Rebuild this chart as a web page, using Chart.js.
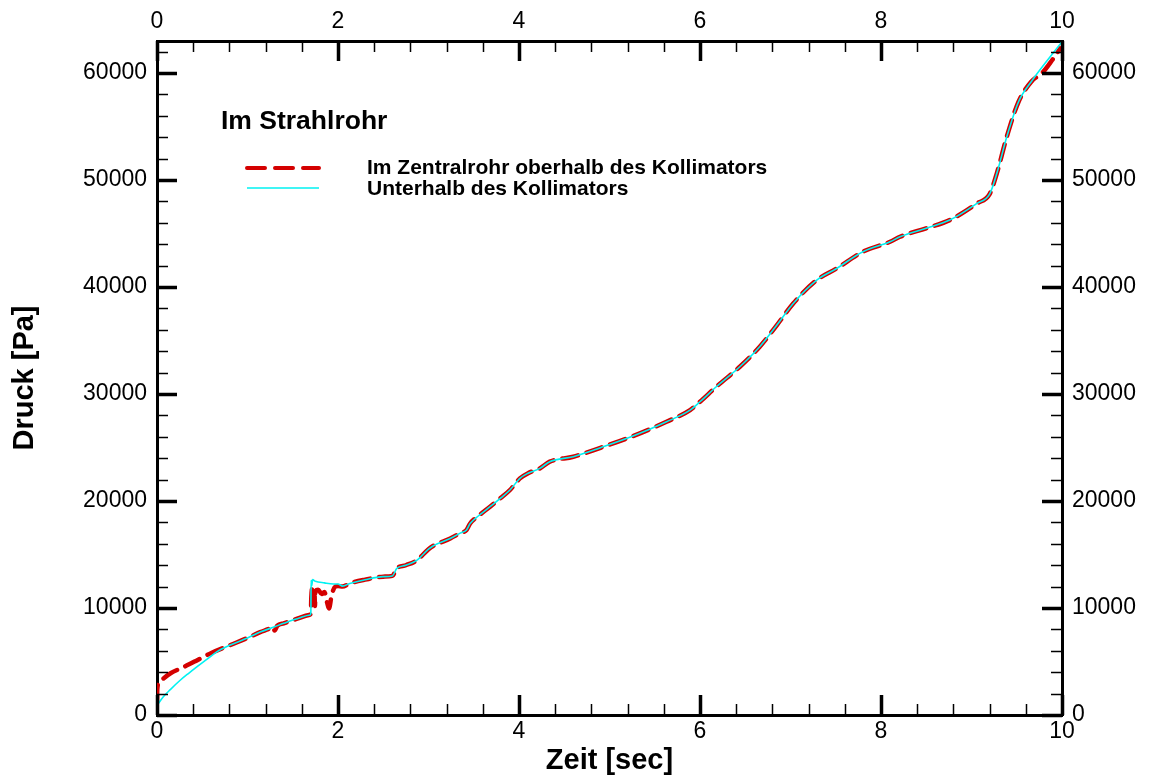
<!DOCTYPE html>
<html>
<head>
<meta charset="utf-8">
<script src="https://cdn.jsdelivr.net/npm/chart.js@4.4.1/dist/chart.umd.min.js"></script>
<style>
html,body{margin:0;padding:0;background:#fff;}
#wrap{width:1154px;height:778px;position:relative;}
</style>
</head>
<body>
<div id="wrap"><canvas id="c"></canvas></div>
<script>
// ---- data ----
const xTickLabels = [0, 2, 4, 6, 8, 10];
const yTickLabels = [0, 10000, 20000, 30000, 40000, 50000, 60000];
const seriesNames = ['Im Zentralrohr oberhalb des Kollimators', 'Unterhalb des Kollimators'];
const legendTitle = 'Im Strahlrohr';

const redT = [0, 0.003, 0.02, 0.07, 0.15, 0.3, 0.44, 0.6, 0.81, 1.0, 1.14, 1.25, 1.28, 1.30, 1.33, 1.4, 1.55, 1.68, 1.70, 1.705, 1.72, 1.74, 1.745, 1.75, 1.78, 1.82, 1.85, 1.88, 1.90, 1.93, 1.97, 2.0, 2.05, 2.13, 2.3, 2.5, 2.6, 2.65, 2.75, 2.87, 3.0, 3.05, 3.24, 3.35, 3.42, 3.46, 3.55, 3.68, 3.8, 3.9, 4.01, 4.1, 4.23, 4.34, 4.6, 4.9, 5.26, 5.63, 5.89, 6.0, 6.18, 6.44, 6.66, 6.85, 7.03, 7.29, 7.51, 7.8, 8.1, 8.21, 8.5, 8.76, 9.06, 9.2, 9.28, 9.39, 9.52, 9.66, 9.79, 9.89, 9.98];
const redP = [1300, 2400, 3000, 3400, 3900, 4500, 5100, 5800, 6540, 7200, 7750, 8100, 8250, 7900, 8350, 8570, 9000, 9350, 9500, 11000, 11900, 11700, 10200, 11600, 11700, 11300, 11500, 10500, 9950, 11200, 12000, 12050, 12000, 12300, 12650, 12930, 13000, 13700, 14000, 14450, 15500, 15800, 16500, 17000, 17300, 17900, 18600, 19470, 20300, 21030, 22120, 22600, 23050, 23680, 24140, 24980, 26070, 27410, 28500, 29280, 30680, 32550, 34420, 36450, 38470, 40650, 41740, 43300, 44230, 44700, 45500, 46260, 47820, 48690, 50630, 54050, 57320, 59190, 60100, 61200, 62300];

const cyanT = [0, 0.07, 0.15, 0.25, 0.35, 0.44, 0.55, 0.66, 0.81, 1.0, 1.14, 1.3, 1.4, 1.55, 1.69, 1.70, 1.703, 1.71, 1.72, 1.75, 1.85, 1.95, 2.0, 2.05, 2.13, 2.3, 2.5, 2.6, 2.65, 2.75, 2.87, 3.0, 3.05, 3.24, 3.35, 3.42, 3.46, 3.55, 3.68, 3.8, 3.9, 4.01, 4.1, 4.23, 4.34, 4.6, 4.9, 5.26, 5.63, 5.89, 6.0, 6.18, 6.44, 6.66, 6.85, 7.03, 7.29, 7.51, 7.8, 8.1, 8.21, 8.5, 8.76, 9.06, 9.2, 9.28, 9.39, 9.52, 9.66, 10.0];
const cyanP = [900, 1700, 2400, 3200, 3900, 4500, 5200, 5900, 6540, 7200, 7750, 8250, 8570, 9000, 9350, 9500, 12600, 12100, 12650, 12500, 12350, 12250, 12250, 12050, 12300, 12650, 12930, 13000, 13700, 14000, 14450, 15500, 15800, 16500, 17000, 17300, 17900, 18600, 19470, 20300, 21030, 22120, 22600, 23050, 23680, 24140, 24980, 26070, 27410, 28500, 29280, 30680, 32550, 34420, 36450, 38470, 40650, 41740, 43300, 44230, 44700, 45500, 46260, 47820, 48690, 50630, 54050, 57320, 59190, 62930];

const X_MIN = 0, X_MAX = 10, X_MINOR = 0.4;
const Y_MIN = 0, Y_MAX = 63000, Y_MINOR = 2000;

// ---- styling ----
const FONT = "'Liberation Sans', Arial, Helvetica, sans-serif";
const RED = '#d40000';
const CYAN = '#00f2f2';

const toPts = (t, p) => t.map((v, i) => ({x: v, y: p[i]}));

const inwardTicks = {
  id: 'inwardTicks',
  afterDraw(chart) {
    const ctx = chart.ctx, a = chart.chartArea;
    const sx = chart.scales.x, sy = chart.scales.y;
    ctx.save();
    ctx.strokeStyle = '#000';
    const nx = Math.round((X_MAX - X_MIN) / X_MINOR);
    for (let i = 0; i <= nx; i++) {
      const v = X_MIN + i * X_MINOR;
      const major = xTickLabels.some(t => Math.abs(t - v) < 1e-6);
      const px = Math.round(sx.getPixelForValue(v)) + 0.5;
      const len = major ? 20 : 11;
      ctx.lineWidth = major ? 3.5 : 1.5;
      ctx.beginPath();
      ctx.moveTo(px, a.bottom); ctx.lineTo(px, a.bottom - len);
      ctx.moveTo(px, a.top); ctx.lineTo(px, a.top + len);
      ctx.stroke();
    }
    const ny = Math.floor((Y_MAX - Y_MIN) / Y_MINOR);
    for (let i = 0; i <= ny; i++) {
      const v = Y_MIN + i * Y_MINOR;
      const major = yTickLabels.some(t => Math.abs(t - v) < 1e-6);
      const py = Math.round(sy.getPixelForValue(v)) + 0.5;
      const len = major ? 20 : 11;
      ctx.lineWidth = major ? 3.5 : 1.5;
      ctx.beginPath();
      ctx.moveTo(a.left, py); ctx.lineTo(a.left + len, py);
      ctx.moveTo(a.right, py); ctx.lineTo(a.right - len, py);
      ctx.stroke();
    }
    ctx.restore();
  }
};

const legendPlugin = {
  id: 'legendBox',
  afterDraw(chart) {
    const ctx = chart.ctx, a = chart.chartArea;
    ctx.save();
    ctx.fillStyle = '#000';
    ctx.textBaseline = 'middle';
    ctx.textAlign = 'left';
    ctx.font = 'bold 26.5px ' + FONT;
    ctx.fillText(legendTitle, a.left + 64, 122);
    // entries
    const x0 = a.left + 90, x1 = a.left + 162, tx = a.left + 210;
    ctx.strokeStyle = RED; ctx.lineWidth = 4; ctx.lineCap = 'round';
    ctx.setLineDash([18, 10]);
    ctx.beginPath(); ctx.moveTo(x0, 168); ctx.lineTo(x1, 168); ctx.stroke();
    ctx.setLineDash([]); ctx.lineCap = 'butt';
    ctx.strokeStyle = CYAN; ctx.lineWidth = 1.5;
    ctx.beginPath(); ctx.moveTo(x0, 188); ctx.lineTo(x1, 188); ctx.stroke();
    ctx.font = 'bold 21px ' + FONT;
    ctx.fillText(seriesNames[0], tx, 168);
    ctx.fillText(seriesNames[1], tx, 189);
    ctx.restore();
  }
};

const tickFont = {family: FONT, size: 23};
const labelCb = v => String(v);

const xCommon = (pos, h, pad) => ({
  type: 'linear', position: pos, min: X_MIN, max: X_MAX,
  grid: {display: true, drawOnChartArea: false, drawTicks: false},
  border: {display: true, color: '#000', width: 3},
  ticks: {font: tickFont, color: '#000', padding: pad, callback: labelCb, maxRotation: 0, autoSkip: false},
  afterBuildTicks: s => { s.ticks = xTickLabels.map(v => ({value: v})); },
  afterFit: s => { s.height = h; }
});
const yCommon = (pos, w, pad) => ({
  type: 'linear', position: pos, min: Y_MIN, max: Y_MAX,
  grid: {display: true, drawOnChartArea: false, drawTicks: false},
  border: {display: true, color: '#000', width: 3},
  ticks: {font: tickFont, color: '#000', padding: pad, callback: labelCb, autoSkip: false},
  afterBuildTicks: s => { s.ticks = yTickLabels.map(v => ({value: v})); },
  afterFit: s => { s.width = w; }
});

const xScale = xCommon('bottom', 63, 3);
xScale.title = {display: true, text: 'Zeit [sec]', color: '#000', font: {family: FONT, size: 29, weight: 'bold'}, padding: {top: 0, bottom: 0}};
const x2Scale = xCommon('top', 41, 6); x2Scale.axis = 'x';
const yScale = yCommon('left', 157, 10);
yScale.title = {display: true, text: 'Druck [Pa]', color: '#000', font: {family: FONT, size: 29, weight: 'bold'}, padding: {top: 8, bottom: 0}};
const y2Scale = yCommon('right', 92, 10); y2Scale.axis = 'y';

new Chart(document.getElementById('c'), {
  type: 'line',
  data: {
    datasets: [
      {label: seriesNames[1], data: toPts(cyanT, cyanP), borderColor: CYAN, borderWidth: 1.6,
       pointRadius: 0, fill: false, cubicInterpolationMode: 'monotone', order: 0, xAxisID: 'x', yAxisID: 'y'},
      {label: seriesNames[0], data: toPts(redT, redP), borderColor: RED, borderWidth: 4.5,
       borderDash: [16, 9], borderCapStyle: 'round', pointRadius: 0, fill: false,
       cubicInterpolationMode: 'monotone', order: 1, xAxisID: 'x', yAxisID: 'y'}
    ]
  },
  options: {
    responsive: true, maintainAspectRatio: false, animation: false,
    layout: {padding: 0},
    plugins: {legend: {display: false}, tooltip: {enabled: false}},
    scales: {x: xScale, x2: x2Scale, y: yScale, y2: y2Scale}
  },
  plugins: [inwardTicks, legendPlugin]
});
</script>
</body>
</html>
